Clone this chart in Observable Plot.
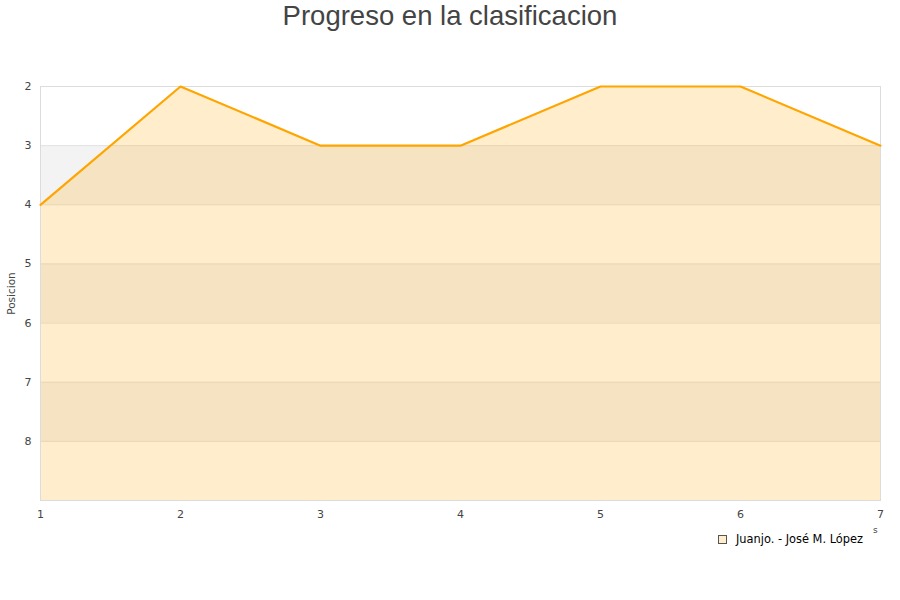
<!DOCTYPE html>
<html>
<head>
<meta charset="utf-8">
<script src="https://cdn.jsdelivr.net/npm/d3@7"></script>
<script src="https://cdn.jsdelivr.net/npm/@observablehq/plot@0.6"></script>
<style>
  body { margin: 0; background: #fff; font-family: "Liberation Sans", Arial, sans-serif; }
  #wrap { position: relative; width: 900px; height: 600px; }
  #title { position: absolute; left: 0; top: 0; width: 900px; text-align: center; font-size: 27.5px; color: #444; line-height: 32px; }
  #chart { position: absolute; left: 0; top: 40px; }
  #legend { position: absolute; left: 718px; top: 532px; font-family: "DejaVu Sans", sans-serif; font-size: 11.4px; color: #000; display: flex; align-items: center; }
  #legend .sw { width: 7px; height: 7px; border: 1px solid #555; background: #ffedcc; margin-right: 9px; }
  #stub { position: absolute; left: 873px; top: 525px; font-family: "DejaVu Sans", sans-serif; font-size: 9px; color: #444; }
</style>
</head>
<body>
<div id="wrap">
  <div id="title">Progreso en la clasificacion</div>
  <div id="chart"></div>
  <div id="legend"><div class="sw"></div><span>Juanjo. - José M. López</span></div>
  <div id="stub">s</div>
</div>
<script>
const jornadas = [1, 2, 3, 4, 5, 6, 7];
const posiciones = [4, 2, 3, 3, 2, 2, 3];
const yTicks = [2, 3, 4, 5, 6, 7, 8];
const bands = [[3, 4], [5, 6], [7, 8]];
const gridLines = [3, 4, 5, 6, 7, 8];
const serieNombre = "Juanjo. - José M. López";

const data = jornadas.map((j, i) => ({ j, p: posiciones[i] }));
const bandData = bands.map(([a, b]) => ({ a, b }));
const fmt = d => String(Math.round(d));

const chart = Plot.plot({
  width: 900,
  height: 520,
  marginTop: 46,
  marginBottom: 60,
  marginLeft: 40,
  marginRight: 20,
  style: { fontFamily: "DejaVu Sans, sans-serif", fontSize: "11px", color: "#444", background: "transparent" },
  x: { domain: [1, 7], label: null },
  y: { domain: [2, 9], reverse: true, label: null },
  marks: [
    Plot.rect(bandData, { x1: 1, x2: 7, y1: "a", y2: "b", fill: "#f3f3f3" }),
    Plot.ruleY(gridLines, { stroke: "#e2e2e2", strokeWidth: 1 }),
    Plot.areaY(data, { x: "j", y1: 9, y2: "p", fill: "#ffa500", fillOpacity: 0.2, curve: "linear" }),
    Plot.frame({ stroke: "#dcdcdc" }),
    Plot.lineY(data, { x: "j", y: "p", stroke: "#ffa500", strokeWidth: 2.2, curve: "linear" }),
    Plot.axisX({ ticks: jornadas, tickFormat: fmt, tickSize: 0, tickPadding: 10, label: null, fill: "#444" }),
    Plot.axisY({ ticks: yTicks, tickFormat: fmt, tickSize: 0, tickPadding: 9, label: null, fill: "#444" }),
    Plot.text(["Posicion"], { frameAnchor: "left", dx: -29, rotate: -90, textAnchor: "middle", fill: "#444", fontSize: 10.5 })
  ]
});
document.getElementById("chart").appendChild(chart);
</script>
</body>
</html>
